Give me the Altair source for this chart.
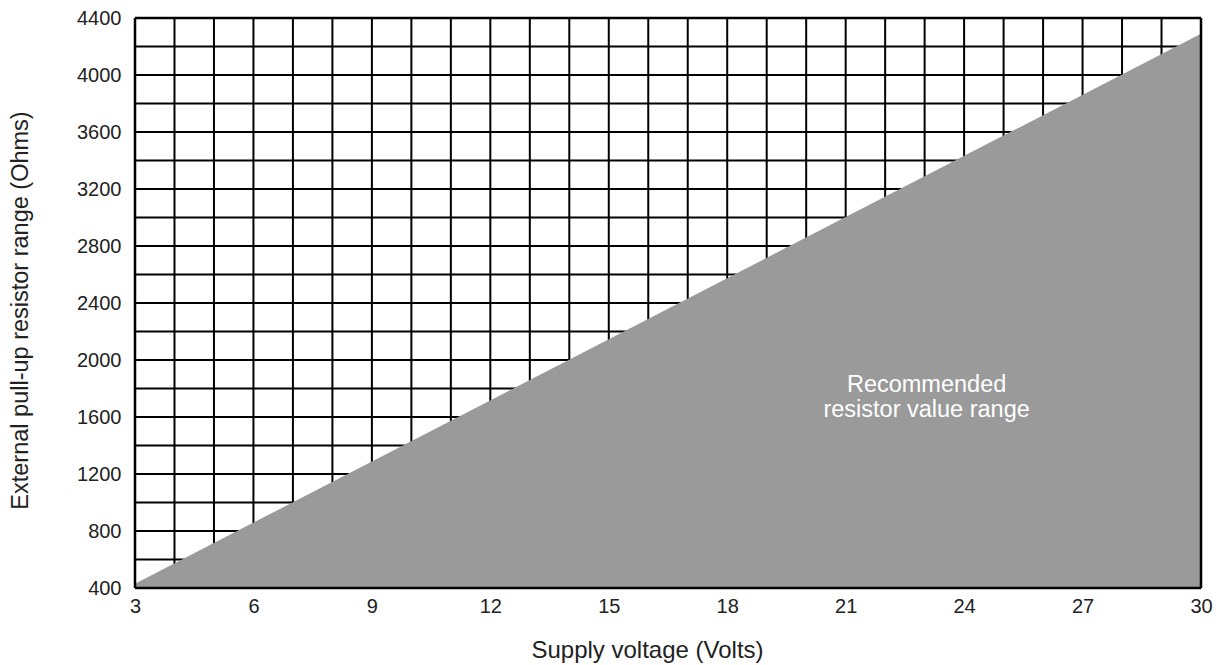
import altair as alt
import pandas as pd

volts = [3, 30]
ohms = [430, 4290]
x_grid = list(range(3, 31))
y_grid = list(range(400, 4401, 200))
x_labels = list(range(3, 31, 3))
y_labels = list(range(400, 4401, 400))
label_text = ["Recommended", "resistor value range"]
label_pos = [23.05, 1823]

area_df = pd.DataFrame({"v": volts, "r": ohms, "base": [400, 400]})
text_df = pd.DataFrame({"v": [label_pos[0]], "r": [label_pos[1]], "t": [label_text]})
vgrid_df = pd.DataFrame({"v": x_grid, "r0": 400, "r1": 4400})
hgrid_df = pd.DataFrame({"r": y_grid, "v0": 3, "v1": 30})
vframe_df = pd.DataFrame({"v": [3, 30], "r0": 400, "r1": 4400})
hframe_df = pd.DataFrame({"r": [400, 4400], "v0": 3, "v1": 30})

FONT = "Liberation Sans"
INK = "#222222"

xscale = alt.Scale(domain=[3, 30], nice=False, zero=False)
yscale = alt.Scale(domain=[400, 4400], nice=False, zero=False)

xaxis = alt.Axis(
    values=x_labels, grid=False, ticks=False, domain=False, labelOverlap=False,
    labelFont=FONT, labelFontSize=20, labelColor=INK, labelPadding=8,
    labelFlush=False,
    title="Supply voltage (Volts)", titleFont=FONT, titleFontSize=24,
    titleFontWeight="normal", titleColor=INK,
    titleX=512, titleY=69, titleBaseline="alphabetic", titleAlign="center",
)
yaxis = alt.Axis(
    values=y_labels, grid=False, ticks=False, domain=False, labelOverlap=False,
    labelFont=FONT, labelFontSize=20, labelColor=INK, labelPadding=14,
    labelFlush=False, format="d",
    title="External pull-up resistor range (Ohms)", titleFont=FONT,
    titleFontSize=23.5, titleFontWeight="normal", titleColor=INK,
    titleX=-108, titleY=292, titleAngle=-90, titleBaseline="alphabetic",
    titleAlign="center",
)

vgrid = alt.Chart(vgrid_df).mark_rule(color="black", strokeWidth=2).encode(
    x=alt.X("v:Q", scale=xscale, axis=xaxis),
    y=alt.Y("r0:Q", scale=yscale, axis=yaxis),
    y2="r1:Q",
)
hgrid = alt.Chart(hgrid_df).mark_rule(color="black", strokeWidth=2).encode(
    y=alt.Y("r:Q", scale=yscale),
    x=alt.X("v0:Q", scale=xscale),
    x2="v1:Q",
)

area = alt.Chart(area_df).mark_area(color="#9a9a9a", opacity=1).encode(
    x=alt.X("v:Q", scale=xscale),
    y=alt.Y("r:Q", scale=yscale),
    y2="base:Q",
)

vframe = alt.Chart(vframe_df).mark_rule(color="black", strokeWidth=2.5).encode(
    x=alt.X("v:Q", scale=xscale),
    y=alt.Y("r0:Q", scale=yscale),
    y2="r1:Q",
)
hframe = alt.Chart(hframe_df).mark_rule(color="black", strokeWidth=2.5).encode(
    y=alt.Y("r:Q", scale=yscale),
    x=alt.X("v0:Q", scale=xscale),
    x2="v1:Q",
)

text = alt.Chart(text_df).mark_text(
    font=FONT, fontSize=23.5, color="white", align="center", baseline="middle",
    lineHeight=25,
).encode(
    x=alt.X("v:Q", scale=xscale),
    y=alt.Y("r:Q", scale=yscale),
    text="t",
)

chart = alt.layer(vgrid, hgrid, area, vframe, hframe, text).properties(
    width=1066, height=570,
    autosize=alt.AutoSizeParams(type="none"),
    padding={"left": 127, "top": 10, "right": 12, "bottom": 80},
).configure_view(stroke=None).configure(background="white")

chart.save("out.html", embed_options={"renderer": "svg", "actions": False})
